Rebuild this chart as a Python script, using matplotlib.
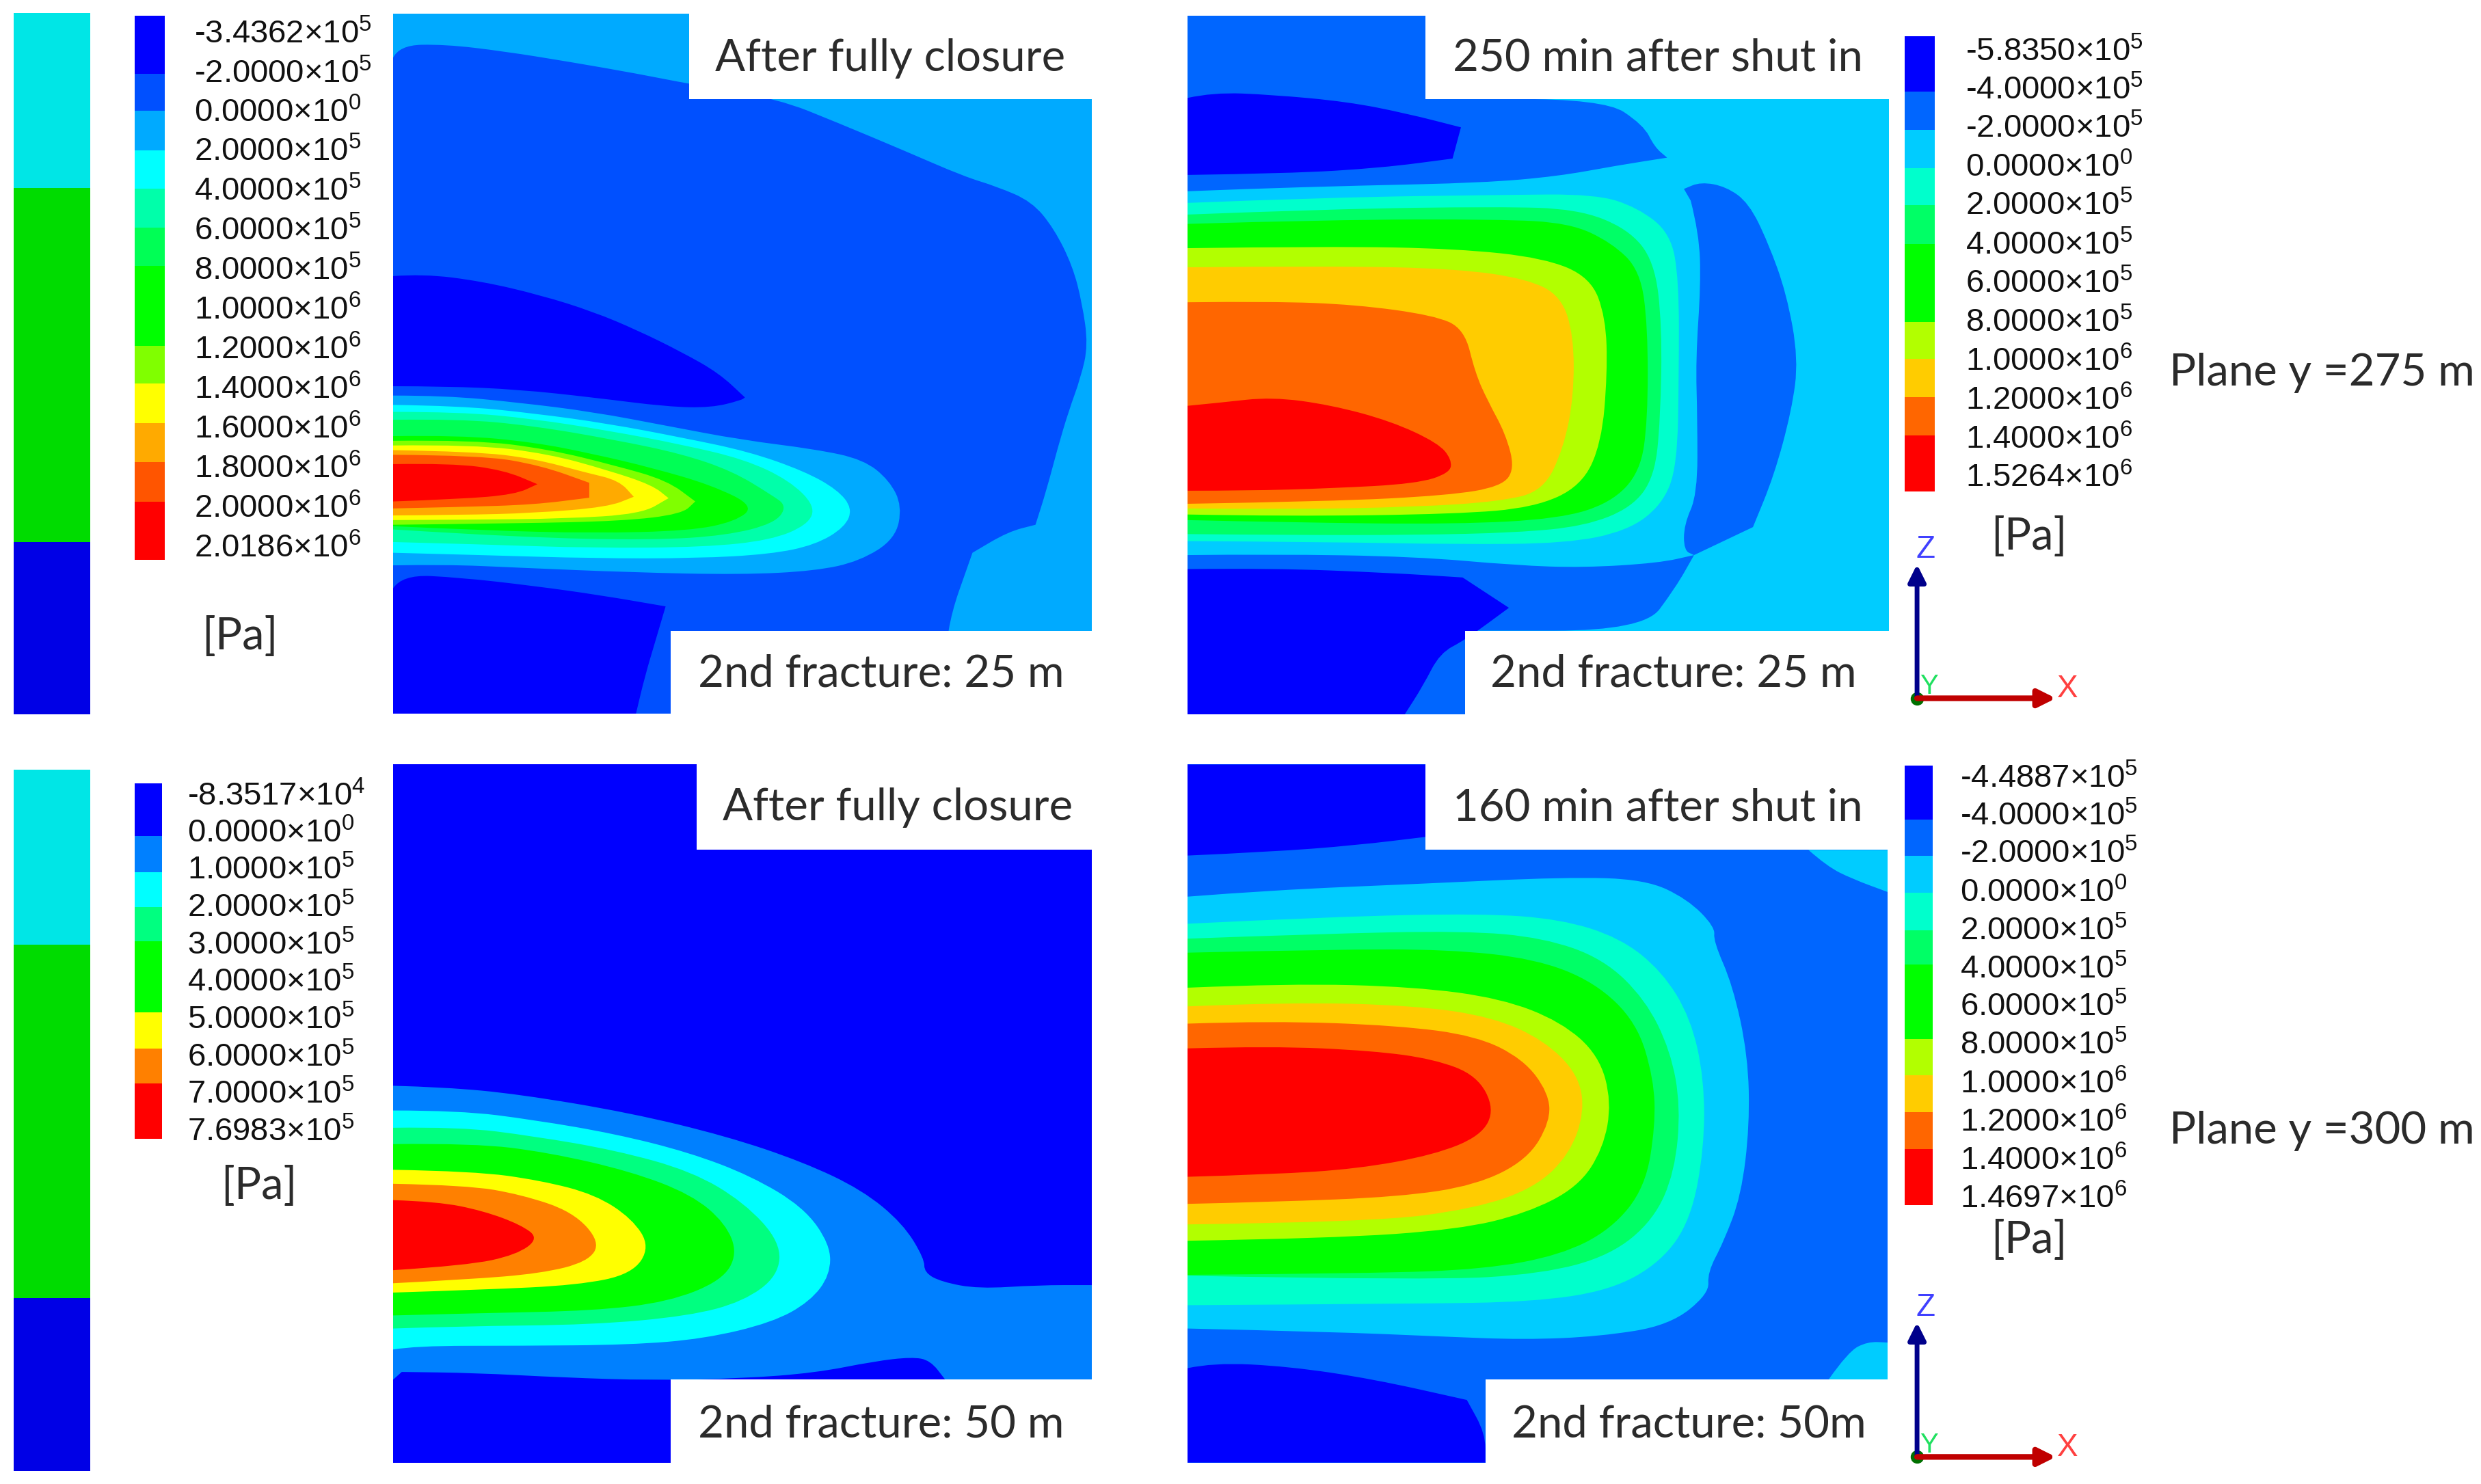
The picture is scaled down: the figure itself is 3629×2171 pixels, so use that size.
import matplotlib
matplotlib.use('Agg')
import matplotlib.pyplot as plt
from matplotlib.path import Path
from matplotlib.patches import PathPatch

plt.rcParams['font.family'] = ['Liberation Sans', 'DejaVu Sans']
plt.rcParams['mathtext.default'] = 'regular'

W, H = 3630, 2171
READ = 1568

# Colour sets of the contour levels, first one is the panel background
COLORS_A = ['#00aaff', '#0050ff', '#0000ff', '#0000ff', '#00aaff', '#00ffff', '#00ffaa', '#00ff55', '#00ff00',
            '#80ff00', '#ffff00', '#ffaa00', '#ff5500', '#ff0000']
COLORS_B = ['#00ccff', '#0066ff', '#0066ff', '#0066ff', '#0000ff', '#0000ff', '#00ffcc', '#00ff66', '#00ff00',
            '#b2ff00', '#ffcc00', '#ff6600', '#ff0000']
COLORS_C = ['#0000ff', '#0080ff', '#00ffff', '#00ff80', '#00ff00', '#ffff00', '#ff8000', '#ff0000']
COLORS_D = ['#0066ff', '#0000ff', '#0000ff', '#00ccff', '#00ccff', '#00ccff', '#00ffcc', '#00ff66', '#00ff00',
            '#b2ff00', '#ffcc00', '#ff6600', '#ff0000']

# Band outlines, a point given twice is a sharp corner
# Panel A: after fully closure, 25 m
DOMAIN_A = [(530, 30), (930, 30), (930, 212), (1473, 212), (1473, 1352), (905, 1352), (905, 1530), (530, 1530)]
BANDS_A = [
    [(530, 125), (538, 97), (600, 95), (680, 110), (770, 133), (860, 158), (930, 180), (1050, 212), (1130, 263),
     (1220, 323), (1300, 378), (1345, 400), (1392, 432), (1422, 490), (1447, 570), (1460, 650), (1468, 740),
     (1458, 810), (1442, 880), (1427, 960), (1412, 1050), (1397, 1125), (1397, 1125), (1360, 1140), (1312, 1185),
     (1312, 1185), (1275, 1352), (1275, 1530), (1275, 1530), (530, 1530)],
    [(530, 592), (570, 587), (650, 603), (730, 633), (800, 668), (860, 708), (920, 755), (970, 800), (1005, 852),
     (1005, 852), (1000, 858), (960, 874), (900, 872), (800, 852), (700, 835), (600, 828), (530, 828)],
    [(530, 1262), (542, 1232), (620, 1238), (720, 1256), (810, 1276), (898, 1300), (898, 1300), (885, 1370), (870, 1450),
     (858, 1530), (858, 1530), (530, 1530)],
    [(530, 848), (600, 848), (700, 863), (800, 883), (900, 913), (1000, 943), (1100, 963), (1165, 985), (1200, 1030),
     (1217, 1085), (1208, 1155), (1160, 1203), (1100, 1224), (1000, 1232), (850, 1227), (700, 1217), (600, 1210),
     (530, 1212)],
    [(530, 868), (620, 870), (720, 886), (820, 908), (920, 938), (1010, 968), (1085, 1010), (1130, 1050), (1150, 1090),
     (1140, 1130), (1100, 1168), (1040, 1188), (940, 1197), (800, 1197), (650, 1190), (530, 1185)],
    [(530, 883), (620, 883), (720, 898), (820, 923), (920, 953), (1005, 985), (1065, 1030), (1100, 1085), (1090, 1125),
     (1040, 1158), (950, 1173), (800, 1175), (650, 1167), (530, 1162)],
    [(530, 900), (620, 898), (720, 913), (830, 943), (920, 973), (988, 1010), (1040, 1060), (1062, 1085), (1045, 1122),
     (980, 1148), (880, 1158), (700, 1152), (530, 1135)],
    [(530, 935), (620, 933), (720, 948), (800, 973), (880, 1003), (960, 1040), (1018, 1085), (992, 1118), (930, 1138),
     (800, 1143), (650, 1137), (530, 1128)],
    [(530, 945), (640, 943), (740, 963), (830, 998), (900, 1030), (938, 1075), (938, 1075), (920, 1102), (840, 1117),
     (700, 1122), (530, 1125)],
    [(530, 955), (640, 953), (740, 973), (820, 1008), (880, 1040), (902, 1068), (902, 1068), (865, 1102), (760, 1112),
     (640, 1114), (530, 1115)],
    [(530, 965), (640, 968), (720, 983), (790, 1013), (835, 1030), (855, 1065), (855, 1065), (820, 1087), (720, 1100),
     (620, 1104), (530, 1105)],
    [(530, 975), (650, 976), (730, 998), (795, 1035), (795, 1035), (795, 1067), (795, 1067), (720, 1082), (620, 1087),
     (530, 1090)],
    [(530, 995), (610, 993), (680, 1008), (725, 1038), (725, 1038), (695, 1060), (620, 1070), (530, 1075)],
]

# Panel B: 250 min after shut in, 25 m
DOMAIN_B = [(30, 33), (313, 33), (313, 212), (864, 212), (864, 1352), (360, 1352), (360, 1532), (30, 1532)]
BANDS_B = [
    [(30, 33), (313, 33), (313, 33), (313, 212), (313, 212), (525, 212), (572, 268), (585, 315), (600, 338),
     (600, 338), (540, 355), (470, 378), (380, 392), (230, 398), (100, 405), (30, 410)],
    [(620, 405), (620, 405), (640, 390), (670, 400), (697, 435), (720, 520), (742, 630), (756, 770), (748, 880),
     (727, 1020), (702, 1130), (702, 1130), (632, 1190), (632, 1190), (620, 1180), (620, 1125), (636, 1060), (636, 900),
     (634, 770), (640, 610), (638, 500), (628, 430)],
    [(30, 1190), (130, 1188), (300, 1193), (420, 1212), (500, 1217), (590, 1207), (632, 1190), (632, 1190), (610, 1260),
     (572, 1352), (360, 1352), (360, 1352), (360, 1532), (360, 1532), (30, 1532)],
    [(30, 210), (60, 198), (130, 203), (220, 218), (290, 243), (355, 273), (355, 273), (345, 340), (345, 340),
     (260, 360), (150, 372), (30, 375)],
    [(30, 1220), (130, 1218), (270, 1228), (357, 1238), (357, 1238), (412, 1303), (412, 1303), (360, 1372), (330, 1400),
     (310, 1470), (288, 1532), (288, 1532), (30, 1532)],
    [(30, 435), (200, 423), (400, 418), (515, 416), (565, 445), (604, 500), (614, 600), (614, 800), (612, 1000),
     (594, 1082), (553, 1138), (480, 1165), (350, 1167), (200, 1162), (30, 1160)],
    [(30, 460), (200, 448), (400, 443), (493, 448), (553, 490), (585, 560), (594, 700), (592, 900), (585, 1022),
     (558, 1088), (502, 1128), (420, 1142), (300, 1147), (150, 1147), (30, 1145)],
    [(30, 480), (200, 471), (400, 470), (484, 478), (534, 520), (568, 580), (577, 700), (577, 900), (568, 1012),
     (533, 1078), (472, 1112), (350, 1124), (150, 1120), (30, 1115)],
    [(30, 532), (200, 528), (350, 533), (454, 553), (509, 595), (527, 680), (529, 800), (522, 950), (498, 1042),
     (442, 1088), (350, 1102), (150, 1107), (30, 1103)],
    [(30, 573), (200, 570), (350, 576), (434, 598), (474, 635), (489, 720), (489, 850), (477, 960), (453, 1052),
     (402, 1075), (300, 1087), (150, 1092), (30, 1090)],
    [(30, 648), (130, 646), (230, 653), (323, 676), (359, 705), (372, 800), (387, 860), (408, 930), (419, 1005),
     (403, 1043), (340, 1062), (200, 1075), (30, 1080)],
    [(30, 870), (70, 863), (130, 851), (200, 868), (272, 903), (328, 950), (344, 985), (342, 1014), (302, 1037),
     (200, 1047), (100, 1052), (30, 1052)],
]

# Panel C: after fully closure, 50 m
DOMAIN_C = [(530, 27), (940, 27), (940, 210), (1473, 210), (1473, 1344), (905, 1344), (905, 1522), (530, 1522)]
BANDS_C = [
    [(530, 715), (600, 718), (700, 733), (850, 773), (980, 823), (1083, 878), (1163, 938), (1218, 1010), (1247, 1085),
     (1247, 1115), (1270, 1135), (1320, 1150), (1400, 1142), (1473, 1142), (1473, 1142), (1473, 1344), (1473, 1344),
     (1275, 1344), (1275, 1344), (1255, 1303), (1230, 1296), (1180, 1305), (1100, 1330), (1000, 1342), (880, 1346),
     (760, 1340), (640, 1330), (542, 1328), (542, 1328), (530, 1345)],
    [(530, 768), (620, 768), (720, 788), (830, 818), (930, 858), (1013, 908), (1084, 975), (1120, 1055), (1120, 1120),
     (1093, 1177), (1042, 1222), (950, 1257), (850, 1270), (700, 1272), (560, 1272), (530, 1280)],
    [(530, 805), (620, 803), (720, 823), (830, 853), (933, 898), (1004, 965), (1053, 1050), (1050, 1122), (1003, 1177),
     (930, 1208), (800, 1227), (620, 1230), (530, 1235)],
    [(530, 840), (640, 838), (740, 858), (850, 898), (933, 948), (979, 1010), (995, 1075), (974, 1132), (902, 1178),
     (800, 1197), (650, 1202), (530, 1207)],
    [(530, 895), (640, 898), (730, 918), (803, 948), (853, 1000), (877, 1060), (853, 1118), (780, 1142), (650, 1152),
     (530, 1158)],
    [(530, 925), (630, 928), (703, 948), (773, 985), (810, 1050), (793, 1092), (730, 1117), (630, 1130), (530, 1138)],
    [(530, 960), (590, 963), (652, 983), (703, 1013), (727, 1042), (697, 1077), (630, 1100), (530, 1110)],
]

# Panel D: 160 min after shut in, 50 m
DOMAIN_D = [(30, 27), (313, 27), (313, 210), (862, 210), (862, 1344), (384, 1344), (384, 1522), (30, 1522)]
BANDS_D = [
    [(30, 27), (313, 27), (313, 27), (313, 182), (313, 182), (230, 200), (130, 214), (30, 222)],
    [(30, 1320), (60, 1308), (150, 1316), (250, 1343), (362, 1388), (362, 1388), (384, 1460), (384, 1522), (384, 1522),
     (30, 1522)],
    [(768, 210), (790, 245), (820, 272), (862, 300), (862, 300), (862, 210), (862, 210)],
    [(792, 1344), (815, 1285), (838, 1263), (862, 1265), (862, 1265), (862, 1344), (862, 1344)],
    [(30, 310), (130, 296), (300, 283), (480, 268), (574, 273), (624, 315), (657, 375), (655, 405), (678, 500),
     (696, 650), (698, 800), (688, 950), (667, 1050), (648, 1115), (650, 1160), (603, 1228), (520, 1252), (430, 1259),
     (330, 1252), (200, 1242), (30, 1235)],
    [(30, 368), (200, 353), (380, 346), (473, 358), (544, 398), (594, 470), (628, 570), (644, 700), (644, 850),
     (628, 1002), (593, 1092), (533, 1153), (440, 1178), (300, 1182), (30, 1185)],
    [(30, 400), (180, 390), (360, 383), (453, 398), (524, 443), (574, 530), (604, 640), (616, 760), (609, 900),
     (584, 1002), (533, 1078), (452, 1118), (320, 1132), (30, 1122)],
    [(30, 430), (200, 423), (340, 423), (443, 443), (514, 493), (564, 580), (584, 700), (586, 800), (574, 932),
     (534, 1022), (473, 1078), (382, 1108), (250, 1117), (30, 1120)],
    [(30, 505), (150, 496), (300, 503), (403, 528), (474, 578), (519, 650), (534, 750), (524, 850), (494, 932),
     (433, 988), (352, 1023), (200, 1042), (30, 1047)],
    [(30, 545), (150, 536), (300, 543), (393, 568), (454, 618), (494, 690), (502, 770), (484, 862), (443, 933),
     (372, 978), (250, 1007), (30, 1012)],
    [(30, 582), (130, 576), (280, 586), (373, 608), (429, 658), (459, 730), (461, 792), (434, 873), (373, 928),
     (282, 953), (130, 964), (30, 968)],
    [(30, 635), (130, 630), (250, 640), (323, 658), (374, 693), (395, 765), (379, 822), (323, 863), (232, 893),
     (130, 905), (30, 910)],
]

# Legend labels and the band edges of each legend
LABELS_A = ['-3.4362×10$^{5}$', '-2.0000×10$^{5}$', '0.0000×10$^{0}$', '2.0000×10$^{5}$', '4.0000×10$^{5}$',
            '6.0000×10$^{5}$', '8.0000×10$^{5}$', '1.0000×10$^{6}$', '1.2000×10$^{6}$', '1.4000×10$^{6}$',
            '1.6000×10$^{6}$', '1.8000×10$^{6}$', '2.0000×10$^{6}$', '2.0186×10$^{6}$']
LABELS_B = ['-5.8350×10$^{5}$', '-4.0000×10$^{5}$', '-2.0000×10$^{5}$', '0.0000×10$^{0}$', '2.0000×10$^{5}$',
            '4.0000×10$^{5}$', '6.0000×10$^{5}$', '8.0000×10$^{5}$', '1.0000×10$^{6}$', '1.2000×10$^{6}$',
            '1.4000×10$^{6}$', '1.5264×10$^{6}$']
LABELS_C = ['-8.3517×10$^{4}$', '0.0000×10$^{0}$', '1.0000×10$^{5}$', '2.0000×10$^{5}$', '3.0000×10$^{5}$',
            '4.0000×10$^{5}$', '5.0000×10$^{5}$', '6.0000×10$^{5}$', '7.0000×10$^{5}$', '7.6983×10$^{5}$']
LABELS_D = ['-4.4887×10$^{5}$', '-4.0000×10$^{5}$', '-2.0000×10$^{5}$', '0.0000×10$^{0}$', '2.0000×10$^{5}$',
            '4.0000×10$^{5}$', '6.0000×10$^{5}$', '8.0000×10$^{5}$', '1.0000×10$^{6}$', '1.2000×10$^{6}$',
            '1.4000×10$^{6}$', '1.4697×10$^{6}$']
LABEL_Y_A = [68, 152, 236, 320, 404, 490, 575, 660, 745, 830, 915, 1000, 1085, 1170]
LABEL_Y_B = [105, 188, 270, 353, 436, 520, 603, 686, 770, 853, 936, 1018]
LABEL_Y_C = [90, 168, 248, 328, 408, 488, 568, 648, 728, 808]
LABEL_Y_D = [52, 132, 212, 296, 378, 460, 540, 622, 706, 788, 870, 952]
EDGES_A = [33, 158, 238, 322, 405, 488, 570, 742, 822, 907, 990, 1075, 1200]
EDGES_B = [77, 197, 278, 360, 440, 523, 690, 770, 852, 933, 1053]
EDGES_C = [67, 180, 258, 332, 406, 558, 635, 710, 828]
EDGES_D = [30, 145, 222, 302, 382, 456, 615, 693, 772, 850, 970]
LEGEND_A = ['#0000ff', '#0050ff', '#00aaff', '#00ffff', '#00ffaa', '#00ff55', '#00ff00', '#80ff00', '#ffff00',
            '#ffaa00', '#ff5500', '#ff0000']
LEGEND_B = ['#0000ff', '#0066ff', '#00ccff', '#00ffcc', '#00ff66', '#00ff00', '#b2ff00', '#ffcc00', '#ff6600',
            '#ff0000']
LEGEND_C = ['#0000ff', '#0080ff', '#00ffff', '#00ff80', '#00ff00', '#ffff00', '#ff8000', '#ff0000']

# Left strips: top, middle and bottom block
STRIP_EDGES_TOP = [28, 403, 1162, 1532]
STRIP_EDGES_BOTTOM = [38, 413, 1170, 1540]
STRIP_COLORS = ['#00e6e6', '#00dc00', '#0000e6']

TEXT_FONT = ['Lato', 'DejaVu Sans']
TEXT_COLOR = '#2b2b2b'
LEGEND_FONT = 34
NOTE_FONT = 47


def crop_axes(fig, x, y, w, h):
    # one overlay axes per read crop, limits in the crop's own read units
    ax = fig.add_axes([x / W, 1 - (y + h) / H, w / W, h / H])
    ax.set_xlim(0, READ)
    ax.set_ylim(READ, 0)
    ax.axis('off')
    ax.patch.set_alpha(0)
    return ax


def band_path(outline):
    # quadratic curve through the midpoints, the outline points are the controls
    verts = [outline[0]]
    codes = [Path.MOVETO]
    for i in range(1, len(outline) - 1):
        p, q = outline[i], outline[i + 1]
        end = q if i == len(outline) - 2 else ((p[0] + q[0]) / 2, (p[1] + q[1]) / 2)
        verts += [p, end]
        codes += [Path.CURVE3, Path.CURVE3]
    verts.append(outline[0])
    codes.append(Path.CLOSEPOLY)
    return Path(verts, codes)


def draw_panel(ax, domain, bands, colors):
    xs, ys = zip(*domain)
    clip = ax.fill(xs, ys, color=colors[0], lw=0)[0]
    for outline, color in zip(bands, colors[1:]):
        patch = PathPatch(band_path(outline), facecolor=color, edgecolor='none', lw=0)
        ax.add_patch(patch)
        patch.set_clip_path(clip)


def draw_legend(ax, x0, x1, edges, colors, labels, label_y, label_x):
    for i, color in enumerate(colors):
        ax.bar(x0, edges[i + 1] - edges[i], width=x1 - x0, bottom=edges[i], align='edge', color=color, lw=0)
    for label, y in zip(labels, label_y):
        ax.text(label_x, y + 7, label, fontsize=LEGEND_FONT, ha='left', va='center', color='#111111')


def note(ax, x, y, s):
    ax.text(x, y, s, family=TEXT_FONT, fontsize=NOTE_FONT, ha='left', va='center', color=TEXT_COLOR)


def draw_triad(ax, y0, y_top):
    ax.annotate('', xy=(897, y_top), xytext=(897, y0),
                arrowprops=dict(arrowstyle='-|>', color='#00008b', lw=5, mutation_scale=38, shrinkA=0, shrinkB=0))
    ax.annotate('', xy=(1062, y0), xytext=(897, y0),
                arrowprops=dict(arrowstyle='-|>', color='#c00000', lw=6, mutation_scale=38, shrinkA=0, shrinkB=0))
    ax.plot([897], [y0], 'o', color='#007000', ms=13)
    ax.text(907, y_top - 32, 'Z', color='#4040ff', fontsize=33, ha='center', va='center')
    ax.text(911, y0 - 25, 'Y', color='#20e060', fontsize=29, ha='center', va='center')
    ax.text(1076, y0 - 20, 'X', color='#ff4040', fontsize=33, ha='center', va='center')


fig = plt.figure(figsize=(W / 100, H / 100), dpi=100, facecolor='white')

ax_a = crop_axes(fig, 0, 0, 1700, 1070)
ax_b = crop_axes(fig, 1700, 0, 1930, 1070)
ax_c = crop_axes(fig, 0, 1100, 1700, 1071)
ax_d = crop_axes(fig, 1700, 1100, 1930, 1071)

draw_panel(ax_a, DOMAIN_A, BANDS_A, COLORS_A)
draw_panel(ax_b, DOMAIN_B, BANDS_B, COLORS_B)
draw_panel(ax_c, DOMAIN_C, BANDS_C, COLORS_C)
draw_panel(ax_d, DOMAIN_D, BANDS_D, COLORS_D)

draw_legend(ax_a, 182, 222, EDGES_A, LEGEND_A, LABELS_A, LABEL_Y_A, 262)
draw_legend(ax_b, 882, 918, EDGES_B, LEGEND_B, LABELS_B, LABEL_Y_B, 955)
draw_legend(ax_c, 182, 219, EDGES_C, LEGEND_C, LABELS_C, LABEL_Y_C, 253)
draw_legend(ax_d, 882, 916, EDGES_D, LEGEND_B, LABELS_D, LABEL_Y_D, 948)

for ax, edges in [(ax_a, STRIP_EDGES_TOP), (ax_c, STRIP_EDGES_BOTTOM)]:
    for i, color in enumerate(STRIP_COLORS):
        ax.bar(18, edges[i + 1] - edges[i], width=104, bottom=edges[i], align='edge', color=color, lw=0)

note(ax_a, 965, 125, 'After fully closure')
note(ax_a, 942, 1445, '2nd fracture: 25 m')
note(ax_a, 272, 1365, '[Pa]')
note(ax_b, 345, 125, '250 min after shut in')
note(ax_b, 390, 1445, '2nd fracture: 25 m')
note(ax_b, 985, 1150, '[Pa]')
note(ax_b, 1197, 800, 'Plane y =275 m')
note(ax_c, 975, 120, 'After fully closure')
note(ax_c, 942, 1440, '2nd fracture: 50 m')
note(ax_c, 298, 930, '[Pa]')
note(ax_d, 345, 120, '160 min after shut in')
note(ax_d, 415, 1440, '2nd fracture: 50m')
note(ax_d, 985, 1045, '[Pa]')
note(ax_d, 1197, 812, 'Plane y =300 m')

draw_triad(ax_b, 1497, 1210)
draw_triad(ax_d, 1510, 1222)

fig.savefig('out.png', dpi=100, facecolor='white')
